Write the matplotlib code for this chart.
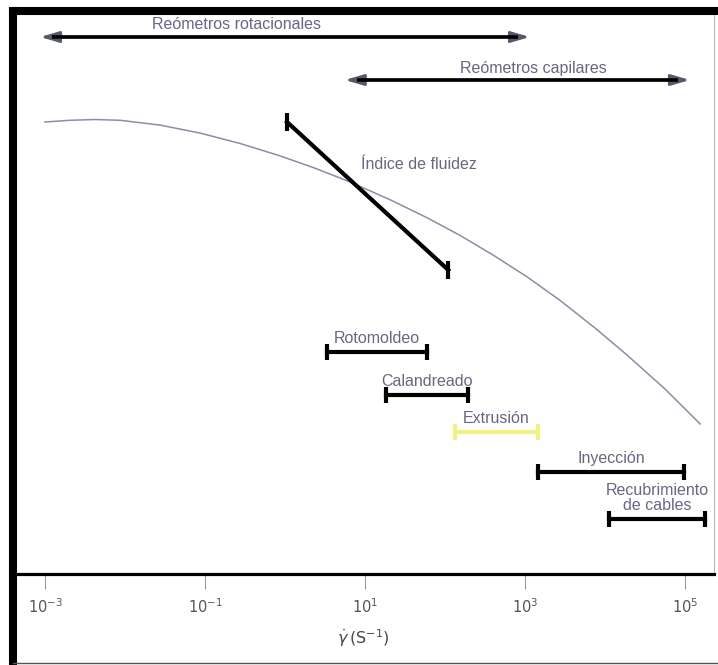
import matplotlib
matplotlib.use("Agg")
import matplotlib.pyplot as plt
from matplotlib.lines import Line2D

plt.rcParams['font.family'] = ['Liberation Sans', 'DejaVu Sans']

# viscosity curve (arbitrary log units) vs shear rate (log10)
curve_lograte = [-3.0, -2.69, -2.375, -2.06, -1.56, -1.06, -0.56, -0.06, 0.375, 0.775,
                 1.31, 1.775, 2.19, 2.6, 3.025, 3.44, 3.875, 4.275, 4.75, 5.19]
curve_visc = [45.3, 45.47, 45.55, 45.47, 44.99, 44.19, 43.15, 41.91, 40.68, 39.43,
              37.54, 35.73, 33.95, 32.0, 29.82, 27.45, 24.7, 22.0, 18.6, 15.1]
curve_rate = [10 ** v for v in curve_lograte]

# melt flow index segment
mfi_rate = [1.06, 110]
mfi_visc = [45.3, 30.5]

# processing ranges
proc_names = ['Rotomoldeo', 'Calandreado', 'Extrusión', 'Inyección', 'Recubrimiento\nde cables']
proc_lo = [3.35, 18.2, 133, 1450, 11200]
proc_hi = [59.6, 195, 1450, 97700, 178000]
proc_level = [22.3, 18.0, 14.3, 10.3, 5.6]
proc_colors = ['black', 'black', '#f3ef86', 'black', 'black']

# rheometer ranges
rheo_names = ['Reómetros rotacionales', 'Reómetros capilares']
rheo_lo = [8.7e-4, 5.6]
rheo_hi = [1150, 115000]
rheo_level = [53.8, 49.5]

xticks = [1e-3, 1e-1, 1e1, 1e3, 1e5]
xticklabels = ['$10^{-3}$', '$10^{-1}$', '$10^{1}$', '$10^{3}$', '$10^{5}$']

txt = '#6a6680'
fs = 11.5

fig = plt.figure(figsize=(7.18, 6.65), dpi=100)
W, H = 718, 665
ax = fig.add_axes([13 / W, (H - 574) / H, 701 / W, 563 / H])
ax.set_xscale('log')
ax.set_xlim(10 ** -3.4, 10 ** 5.3625)
ax.set_ylim(0.1, 56.4)

# curve
ax.plot(curve_rate, curve_visc, color='#8c8ca6', lw=1.1)

# indice de fluidez
ax.plot(mfi_rate, mfi_visc, color='black', lw=3, marker='|', ms=13, mew=3)
ax.text(10 ** 1.675, 41.0, 'Índice de fluidez', color=txt, fontsize=fs, ha='center', va='center')

# processing bars
for name, lo, hi, lev, c in zip(proc_names, proc_lo, proc_hi, proc_level, proc_colors):
    ax.plot([lo, hi], [lev, lev], color=c, lw=3, marker='|', ms=11, mew=3)
    ax.annotate(name, ((lo * hi) ** 0.5, lev), xytext=(0, 4), textcoords='offset points',
                ha='center', va='bottom', color=txt, fontsize=fs, linespacing=1.05)

# rheometer arrows: grey heads, black shaft
head = 10 ** (12 / 80)
label_pos = [(10 ** -0.6, 55.0), (10 ** 3.1, 50.6)]
for name, lo, hi, lev, lp in zip(rheo_names, rheo_lo, rheo_hi, rheo_level, label_pos):
    ax.annotate('', xy=(hi, lev), xytext=(lo, lev),
                arrowprops=dict(arrowstyle='<|-|>,head_length=0.75,head_width=0.22',
                                mutation_scale=15, color='#55586e', lw=2,
                                shrinkA=0, shrinkB=0))
    ax.plot([lo * head, hi / head], [lev, lev], color='black', lw=2.6,
            solid_capstyle='butt', zorder=5)
    ax.text(lp[0], lp[1], name, color=txt, fontsize=fs, ha='center', va='center')

# axis styling
ax.set_yticks([])
ax.set_xticks(xticks)
ax.set_xticklabels(xticklabels, color='#555555', fontsize=10.5)
ax.minorticks_off()
ax.tick_params(axis='x', direction='out', length=11, width=0.8, color='#999999', pad=6)
ax.set_xlabel(r'$\dot{\gamma}\,(\mathrm{S}^{-1})$', color='#444444', fontsize=11.5, labelpad=8)

ax.spines['left'].set_linewidth(5.8)
ax.spines['top'].set_linewidth(5.8)
ax.spines['bottom'].set_linewidth(2.3)
ax.spines['right'].set_linewidth(0.8)
ax.spines['right'].set_color('#bbbbbb')

# frame around the lower part
fig.add_artist(Line2D([13 / W, 13 / W], [2 / H, (H - 574) / H], transform=fig.transFigure, color='black', lw=5.8))
fig.add_artist(Line2D([13 / W, 718 / W], [2 / H, 2 / H], transform=fig.transFigure, color='#555555', lw=1))

fig.savefig('out.png', dpi=100)
